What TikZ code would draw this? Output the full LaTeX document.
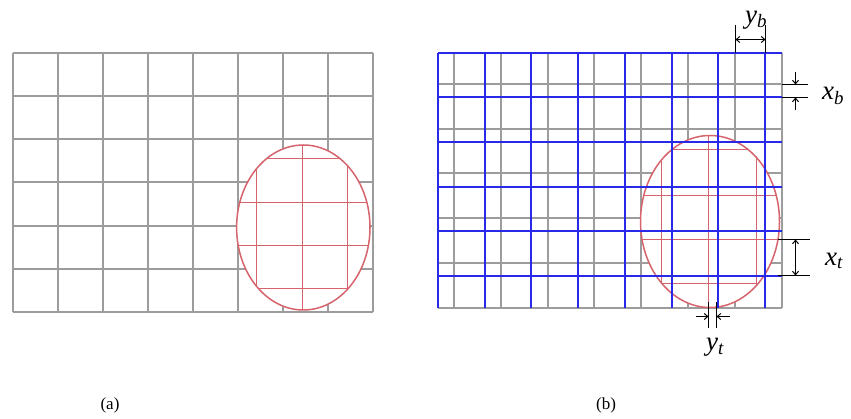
\documentclass[tikz,border=0pt]{standalone}
\usepackage{fontspec}
\setmainfont{Liberation Serif}
\usetikzlibrary{arrows.meta,positioning}
\definecolor{gridgray}{HTML}{9C9C9C}
\definecolor{gridblue}{HTML}{2828E8}
\definecolor{cellred}{HTML}{D6646C}

\begin{document}
\begin{tikzpicture}[x=1pt, y=-1pt,
  gline/.style={draw=gridgray, line width=2pt},
  bline/.style={draw=gridblue, line width=2pt},
  rline/.style={draw=cellred, line width=1pt},
  oval/.style={draw=cellred, line width=1.5pt, fill=white},
  tickline/.style={draw=black, line width=1pt},
  dimarr/.style={{Straight Barb[length=3.5pt,width=6pt]}-{Straight Barb[length=3.5pt,width=6pt]}, line width=1pt},
  arr/.style={-{Straight Barb[length=3.5pt,width=6pt]}, line width=1pt},
  sym/.style={font=\fontsize{27}{27}\selectfont\itshape, inner sep=0pt},
  captext/.style={font=\fontsize{17}{17}\selectfont, inner sep=0pt}
]
  \useasboundingbox (0,0) rectangle (851,419);

  % (a) coarse grid with the refined cells
  \foreach \x in {13,58,103,148,193,238,283,328,373}
    \draw[gline] (\x,53) -- (\x,312);
  \foreach \y in {53,96,139,182,226,269,312}
    \draw[gline] (13,\y) -- (373,\y);
  \path[oval] (303.3,227.5) ellipse [x radius=66.7pt, y radius=82.5pt];
  \begin{scope}
    \clip (303.3,227.5) ellipse [x radius=66.7pt, y radius=82.5pt];
    \foreach \x in {256.5,302.5,347.5}
      \draw[rline] (\x,140) -- (\x,315);
    \foreach \y in {158.5,202.5,245.5,288.5}
      \draw[rline] (230,\y) -- (375,\y);
  \end{scope}

  % (b) shifted grids
  \foreach \x in {454,501,548,594,641,688,735,782}
    \draw[gline] (\x,53) -- (\x,308);
  \foreach \y in {84,129,173,218,263,308}
    \draw[gline] (438,\y) -- (782,\y);
  \path[oval] (710,221.5) ellipse [x radius=69.5pt, y radius=86pt];
  \begin{scope}
    \clip (710,221.5) ellipse [x radius=69.5pt, y radius=86pt];
    \foreach \x in {661.5,708.5,756.5}
      \draw[rline] (\x,130) -- (\x,312);
    \foreach \y in {149.5,195.5,239.5,283.5}
      \draw[rline] (635,\y) -- (785,\y);
  \end{scope}
  \foreach \x in {438,485,531,578,625,672,718,765}
    \draw[bline] (\x,53) -- (\x,308);
  \foreach \y in {53,97,142,187,231,276}
    \draw[bline] (438,\y) -- (782,\y);

  % dimension marks
  \draw[tickline] (735.5,25) -- (735.5,53);
  \draw[tickline] (765.5,25) -- (765.5,53);
  \coordinate (ybl) at (735.5,39.5);
  \coordinate (ybr) at (765.5,39.5);
  \draw[dimarr] (ybl) -- (ybr);

  \draw[tickline] (782,84.5) -- (808,84.5);
  \draw[tickline] (782,97.5) -- (808,97.5);
  \coordinate (xbtop) at (795.5,72);
  \coordinate (xbt) at (795.5,84.5);
  \coordinate (xbb) at (795.5,97.5);
  \coordinate (xbbot) at (795.5,110);
  \draw[arr] (xbtop) -- (xbt);
  \draw[arr] (xbbot) -- (xbb);

  \draw[tickline] (778,239.5) -- (810,239.5);
  \draw[tickline] (778,275.5) -- (810,275.5);
  \coordinate (xtt) at (795.5,239.5);
  \coordinate (xtb) at (795.5,275.5);
  \draw[dimarr] (xtt) -- (xtb);

  \draw[tickline] (708.5,302.5) -- (708.5,328.5);
  \draw[tickline] (716.5,302.5) -- (716.5,328.5);
  \coordinate (ytlo) at (696,316.5);
  \coordinate (ytl) at (708.5,316.5);
  \coordinate (ytr) at (716.5,316.5);
  \coordinate (ytro) at (730,316.5);
  \draw[arr] (ytlo) -- (ytl);
  \draw[arr] (ytro) -- (ytr);

  \node[sym] (yb) at (756,20) {y\textsubscript{b}};
  \node[sym] (xb) at (833,96) {x\textsubscript{b}};
  \node[sym] (xt) at (834,261) {x\textsubscript{t}};
  \node[sym] (yt) at (715,347) {y\textsubscript{t}};

  \node[captext] (capa) at (110,405) {(a)};
  \node[captext] (capb) at (606,405) {(b)};
\end{tikzpicture}
\end{document}
